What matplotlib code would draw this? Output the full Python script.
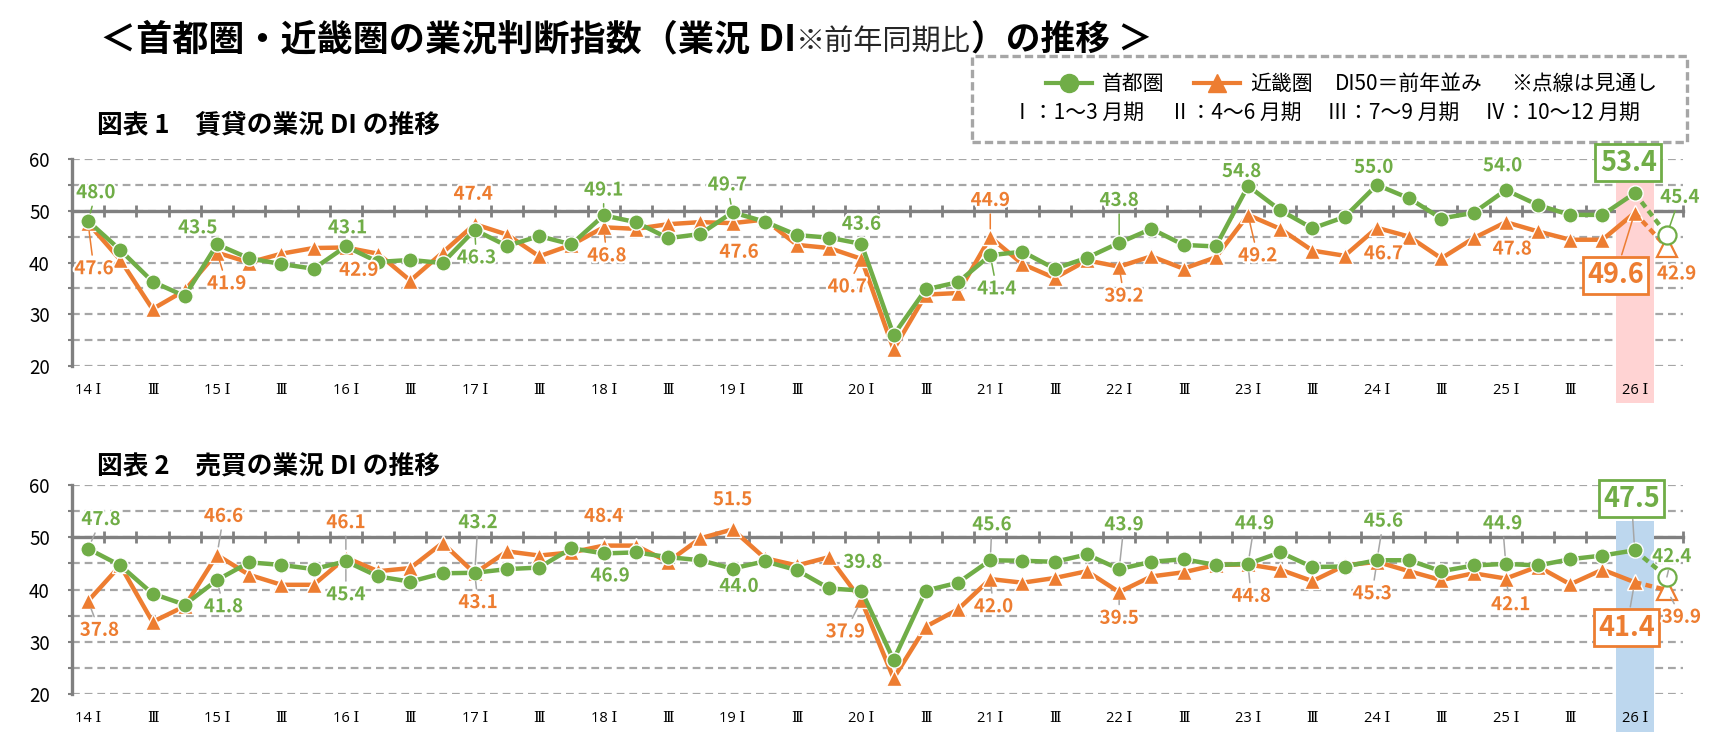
import numpy as np
import matplotlib
matplotlib.use('Agg')
import matplotlib.pyplot as plt
import matplotlib.patheffects as pe
from matplotlib.lines import Line2D
from matplotlib.patches import Rectangle

plt.rcParams['font.family'] = ['Noto Sans CJK JP', 'DejaVu Sans']

GREEN = '#70AD47'
ORANGE = '#ED7D31'
AXGRAY = '#808080'
GRIDGRAY = '#A6A6A6'
W, H = 1726, 756

# ---- data (2014 Q1 .. 2026 Q1, then 2026 Q2 forecast) ----
tick_labels = ['14 Ⅰ', 'Ⅲ', '15 Ⅰ', 'Ⅲ', '16 Ⅰ', 'Ⅲ', '17 Ⅰ', 'Ⅲ', '18 Ⅰ', 'Ⅲ',
               '19 Ⅰ', 'Ⅲ', '20 Ⅰ', 'Ⅲ', '21 Ⅰ', 'Ⅲ', '22 Ⅰ', 'Ⅲ', '23 Ⅰ', 'Ⅲ',
               '24 Ⅰ', 'Ⅲ', '25 Ⅰ', 'Ⅲ', '26 Ⅰ']

rent_tokyo = [48.0, 42.4, 36.3, 33.5, 43.5, 40.8, 39.7, 38.8, 43.1, 40.1,
              40.5, 39.9, 46.3, 43.2, 45.1, 43.5, 49.1, 47.8, 44.7, 45.5,
              49.7, 47.9, 45.3, 44.8, 43.6, 26.0, 34.8, 36.2, 41.4, 42.1,
              38.8, 40.9, 43.8, 46.5, 43.4, 43.1, 54.8, 50.1, 46.6, 48.8,
              55.0, 52.4, 48.5, 49.6, 54.0, 51.1, 49.2, 49.2, 53.4]
rent_kinki = [47.6, 40.5, 31.0, 34.6, 41.9, 40.0, 41.7, 42.8, 42.9, 41.7,
              36.5, 41.9, 47.4, 45.4, 41.2, 43.4, 46.8, 46.5, 47.4, 47.8,
              47.6, 48.3, 43.4, 42.8, 40.7, 23.2, 33.8, 34.1, 44.9, 39.7,
              37.0, 40.4, 39.2, 41.2, 38.8, 41.0, 49.2, 46.5, 42.3, 41.3,
              46.7, 45.0, 40.8, 44.7, 47.8, 46.0, 44.4, 44.4, 49.6]
rent_tokyo_fc = 45.4
rent_kinki_fc = 42.9

sale_tokyo = [47.8, 44.6, 39.2, 37.1, 41.8, 45.2, 44.7, 43.9, 45.4, 42.5,
              41.5, 43.1, 43.2, 43.9, 44.2, 47.9, 46.9, 47.1, 46.2, 45.6,
              44.0, 45.4, 43.7, 40.2, 39.8, 26.5, 39.8, 41.3, 45.6, 45.5,
              45.3, 46.7, 43.9, 45.3, 45.8, 44.7, 44.9, 47.1, 44.3, 44.4,
              45.6, 45.6, 43.5, 44.6, 44.9, 44.6, 45.8, 46.5, 47.5]
sale_kinki = [37.8, 44.6, 33.8, 36.8, 46.6, 42.8, 40.9, 40.9, 46.1, 43.5,
              44.1, 48.9, 43.1, 47.3, 46.5, 47.1, 48.4, 48.4, 45.3, 49.8,
              51.5, 46.0, 44.6, 46.2, 37.9, 23.0, 32.9, 36.2, 42.0, 41.3,
              42.2, 43.5, 39.5, 42.5, 43.3, 44.7, 44.8, 43.8, 41.6, 44.6,
              45.3, 43.5, 41.8, 43.1, 42.1, 44.4, 41.0, 43.8, 41.4]
sale_tokyo_fc = 42.4
sale_kinki_fc = 39.9

# ---- label layout: index -> (dx, dy, leader line) ----
rent_tokyo_lbl = {0: (0.24, 5.5, 1), 4: (-0.6, 3.2, 0), 8: (0.05, 3.6, 0), 12: (0.05, -5.4, 1),
                  16: (0, 4.9, 1), 20: (-0.16, 5.3, 1), 24: (0, 3.8, 0), 28: (0.2, -6.5, 1),
                  32: (0, 8.2, 1), 36: (-0.2, 2.8, 0), 40: (-0.1, 3.4, 0), 44: (-0.1, 4.7, 0),
                  48: (-0.2, 5.9, 0), 49: (0.4, 7.2, 1)}
rent_kinki_lbl = {0: (0.18, -8.8, 1), 4: (0.3, -6.0, 1), 8: (0.4, -4.4, 0), 12: (-0.05, 5.8, 0),
                  16: (0.1, -5.5, 1), 20: (0.2, -5.6, 0), 24: (-0.44, -5.4, 1), 28: (0, 7.1, 1),
                  32: (0.15, -5.7, 1), 36: (0.3, -7.9, 1), 40: (0.2, -5.0, 0), 44: (0.2, -5.2, 0),
                  48: (-0.6, -12.1, 1), 49: (0.3, -5.1, 0)}
sale_tokyo_lbl = {0: (0.4, 5.6, 1), 4: (0.2, -5.1, 1), 8: (0, -6.4, 1), 12: (0.1, 9.6, 1),
                  16: (0.2, -4.3, 0), 20: (0.2, -3.4, 0), 24: (0.05, 5.4, 0), 28: (0.05, 6.8, 1),
                  32: (0.15, 8.5, 1), 36: (0.2, 7.7, 1), 40: (0.2, 7.5, 1), 44: (-0.1, 7.7, 1),
                  48: (-0.1, 9.9, 1), 49: (0.15, 3.9, 1)}
sale_kinki_lbl = {0: (0.35, -5.6, 1), 4: (0.2, 7.4, 1), 8: (0, 6.7, 1), 12: (0.1, -5.6, 1),
                  16: (0, 5.6, 0), 20: (0, 5.7, 0), 24: (-0.5, -6.0, 1), 28: (0.1, -5.3, 1),
                  32: (0, -5.0, 1), 36: (0.1, -6.1, 1), 40: (-0.15, -6.1, 1), 44: (0.15, -5.0, 1),
                  48: (-0.25, -8.7, 1), 49: (0.45, -5.2, 1)}

halo = [pe.withStroke(linewidth=3, foreground='white')]


def put_labels(ax, vals, fc, layout, color, lead_color):
    allv = list(vals) + [fc]
    last = len(vals) - 1
    for i, (dx, dy, lead) in layout.items():
        v = allv[i]
        big = (i == last)
        kw = dict(ha='center', va='center', color=color, fontweight='bold',
                  fontsize=19.5 if big else 13.5, zorder=8, annotation_clip=False)
        if big:
            kw['bbox'] = dict(boxstyle='square,pad=0.16', fc='white', ec=color, lw=2)
        else:
            kw['path_effects'] = halo
        if lead:
            kw['arrowprops'] = dict(arrowstyle='-', color=lead_color, lw=1.1,
                                    shrinkA=1, shrinkB=6)
        ax.annotate(f'{v:.1f}', xy=(i, v), xytext=(i + dx, v + dy), **kw)


def draw_panel(ax, tokyo, kinki, tokyo_fc, kinki_fc, t_lbl, k_lbl, span_color,
               span_top, lead_t, lead_k):
    x = np.arange(len(tokyo))
    ax.set_xlim(-0.5, 49.5)
    ax.set_ylim(20, 60)
    ax.set_axisbelow(True)

    ax.set_yticks([20, 30, 40, 50, 60])
    ax.set_yticks([25, 35, 45, 55], minor=True)
    ax.grid(axis='y', which='both', color=GRIDGRAY, lw=1.6, ls=(0, (3.5, 2.2)))
    ax.tick_params(axis='y', which='both', length=3, width=1.5, color=AXGRAY,
                   labelsize=13.5, pad=13)

    for s in ['top', 'right']:
        ax.spines[s].set_visible(False)
    ax.spines['left'].set_color(AXGRAY)
    ax.spines['left'].set_linewidth(2.4)
    ax.spines['bottom'].set_position(('data', 50))
    ax.spines['bottom'].set_color(AXGRAY)
    ax.spines['bottom'].set_linewidth(2.4)

    ax.set_xticks(np.arange(-0.5, 50, 1))
    ax.tick_params(axis='x', direction='inout', length=9, width=2, color=AXGRAY,
                   labelbottom=False)

    sec = ax.secondary_xaxis(0)
    sec.set_xticks(np.arange(0, 49, 2), labels=tick_labels)
    sec.tick_params(length=0, pad=12, labelsize=10.5)
    for lab in sec.get_xticklabels():
        lab.set_fontfamily(['Open Sans', 'DejaVu Serif'])
    sec.spines['bottom'].set_visible(False)
    sec.set_zorder(9)

    ax.axvspan(47.41, 48.59, ymin=-0.18, ymax=span_top, color=span_color, lw=0,
               zorder=3, clip_on=False)

    ax.plot(x, kinki, color=ORANGE, lw=3.2, marker='^', ms=12, mec='white', mew=1,
            zorder=4, clip_on=False)
    ax.plot(x, tokyo, color=GREEN, lw=3.2, marker='o', ms=11, mec='white', mew=1,
            zorder=5, clip_on=False)
    # forecast (dotted)
    ax.plot([x[-1], x[-1] + 1], [kinki[-1], kinki_fc], color=ORANGE, lw=3.2,
            ls=(0, (1.5, 1)), zorder=4)
    ax.plot([x[-1], x[-1] + 1], [tokyo[-1], tokyo_fc], color=GREEN, lw=3.2,
            ls=(0, (1.5, 1)), zorder=5)
    ax.plot([x[-1] + 1], [kinki_fc], marker='^', ms=14, mfc='white', mec=ORANGE,
            mew=1.6, zorder=4, clip_on=False)
    ax.plot([x[-1] + 1], [tokyo_fc], marker='o', ms=13, mfc='white', mec=GREEN,
            mew=1.6, zorder=5, clip_on=False)

    put_labels(ax, kinki, kinki_fc, k_lbl, ORANGE, lead_k)
    put_labels(ax, tokyo, tokyo_fc, t_lbl, GREEN, lead_t)


fig = plt.figure(figsize=(W / 100, H / 100), dpi=100)
bg = fig.add_axes([0, 0, 1, 1])
bg.axis('off')
bg.set_xlim(0, 1)
bg.set_ylim(0, 1)

ax1 = fig.add_axes([72 / W, 1 - 366 / H, 1611 / W, 207 / H])
ax2 = fig.add_axes([72 / W, 1 - 694 / H, 1611 / W, 209 / H])

draw_panel(ax1, rent_tokyo, rent_kinki, rent_tokyo_fc, rent_kinki_fc,
           rent_tokyo_lbl, rent_kinki_lbl, '#FFD3D3', 0.89, GREEN, ORANGE)
draw_panel(ax2, sale_tokyo, sale_kinki, sale_tokyo_fc, sale_kinki_fc,
           sale_tokyo_lbl, sale_kinki_lbl, '#BDD7EE', 0.83, GRIDGRAY, GRIDGRAY)

# ---- title ----
t1 = bg.text(100 / W, 1 - 58 / H, '＜首都圏・近畿圏の業況判断指数（業況 DI',
             fontsize=26, fontweight='bold', va='bottom', ha='left')
t2 = bg.annotate('※前年同期比', xy=(1, 0), xycoords=t1, fontsize=21,
                 va='bottom', ha='left', color='#262626')
bg.annotate('）の推移 ＞', xy=(1, 0), xycoords=t2, fontsize=25,
            fontweight='bold', va='bottom', ha='left')

# ---- panel titles ----
bg.text(97 / W, 1 - 125 / H, '図表 1　賃貸の業況 DI の推移', fontsize=18.5,
        fontweight='bold', va='center', ha='left')
bg.text(97 / W, 1 - 467 / H, '図表 2　売買の業況 DI の推移', fontsize=18.5,
        fontweight='bold', va='center', ha='left')

# ---- legend box ----
bg.add_patch(Rectangle((972 / W, 1 - 142 / H), (1687 - 972) / W, 86 / H,
                       fill=False, ec=GRIDGRAY, lw=2.4, ls=(0, (2.5, 1.2))))
handles = [Line2D([], [], color=GREEN, lw=3, marker='o', ms=13),
           Line2D([], [], color=ORANGE, lw=3, marker='^', ms=13)]
fig.legend(handles, ['首都圏', '近畿圏'], ncol=2, loc='center left',
           bbox_to_anchor=(1046 / W, 1 - 84 / H), frameon=False, fontsize=15,
           handlelength=2.2, columnspacing=1.4, handletextpad=0.5,
           borderaxespad=0, borderpad=0)
bg.text(1335 / W, 1 - 84 / H, 'DI50＝前年並み', fontsize=15, va='center', ha='left')
bg.text(1511 / W, 1 - 84 / H, '※点線は見通し', fontsize=15, va='center', ha='left')
bg.text(1012 / W, 1 - 113 / H,
        'Ⅰ：1～3 月期　 Ⅱ：4～6 月期　 Ⅲ：7～9 月期　 Ⅳ：10～12 月期',
        fontsize=15, va='center', ha='left')

fig.savefig('out.png', dpi=100)
